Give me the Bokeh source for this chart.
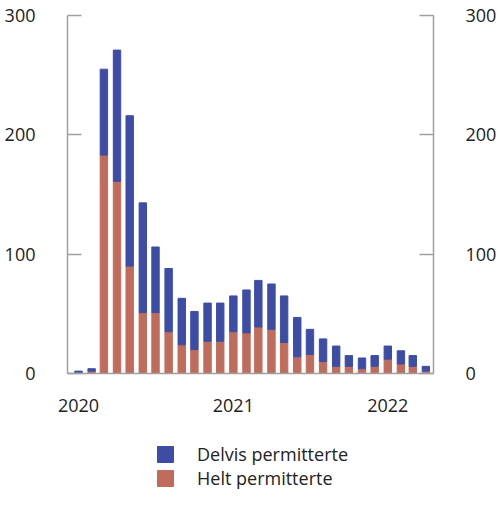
from bokeh.plotting import figure
from bokeh.embed import file_html
from bokeh.resources import INLINE
from bokeh.layouts import column
from bokeh.models import ColumnDataSource, Range1d, LinearAxis, FixedTicker, Legend, DatetimeTickFormatter
import pandas as pd

# Maaneder (jan 2020 - apr 2022)
maaneder = ["2020-01", "2020-02", "2020-03", "2020-04", "2020-05", "2020-06", "2020-07",
            "2020-08", "2020-09", "2020-10", "2020-11", "2020-12",
            "2021-01", "2021-02", "2021-03", "2021-04", "2021-05", "2021-06", "2021-07",
            "2021-08", "2021-09", "2021-10", "2021-11", "2021-12",
            "2022-01", "2022-02", "2022-03", "2022-04"]

# Helt permitterte (1000 personer)
helt = [0.8, 2, 183, 161, 90, 51, 51, 35, 24, 20, 27, 27,
        35, 34, 39, 37, 26, 14, 16, 10, 6, 6, 4, 6,
        12, 8, 6, 2]

# Sum helt + delvis
totalt = [2, 4, 255, 271, 216, 143, 106, 88, 63, 52, 59, 59,
          65, 70, 78, 75, 65, 47, 37, 29, 23, 15, 13, 15,
          23, 19, 15, 6]

delvis = [t - h for t, h in zip(totalt, helt)]

serier = ["Delvis permitterte", "Helt permitterte"]

farge_delvis = "#3d4da6"
farge_helt = "#c06c5c"
akse_farge = "#a0a0a0"
tekst_farge = "#222222"
font = "Open Sans"

source = ColumnDataSource(dict(x=pd.to_datetime(maaneder), helt=helt, delvis=delvis))

p = figure(x_axis_type="datetime",
           x_range=Range1d(pd.Timestamp("2019-12-06"), pd.Timestamp("2022-04-19")),
           y_range=Range1d(0, 300),
           width=500, height=430,
           min_border_left=67, min_border_right=67, min_border_top=15, min_border_bottom=57,
           toolbar_location=None, output_backend="svg")

bredde = 17.5 * 24 * 60 * 60 * 1000
p.vbar_stack(["helt", "delvis"], x="x", width=bredde, color=[farge_helt, farge_delvis],
             source=source)

p.xgrid.visible = False
p.ygrid.visible = False
p.outline_line_color = None

# y-akser paa begge sider
p.add_layout(LinearAxis(), "right")
for ax in p.yaxis:
    ax.ticker = FixedTicker(ticks=[0, 100, 200, 300])
    ax.major_tick_in = 14
    ax.major_tick_out = 0
    ax.minor_tick_line_color = None
    ax.axis_line_color = akse_farge
    ax.axis_line_width = 1.5
    ax.major_tick_line_color = akse_farge
    ax.major_tick_line_width = 1.5
    ax.major_label_text_font = font
    ax.major_label_text_font_size = "18px"
    ax.major_label_text_color = tekst_farge
    ax.major_label_standoff = 32

ax = p.xaxis[0]
ax.ticker = FixedTicker(ticks=[pd.Timestamp(f"{aar}-01-01").value / 1e6 for aar in (2020, 2021, 2022)])
ax.formatter = DatetimeTickFormatter(years="%Y", months="%Y", days="%Y")
ax.major_tick_line_color = None
ax.minor_tick_line_color = None
ax.axis_line_color = akse_farge
ax.axis_line_width = 1.5
ax.major_label_text_font = font
ax.major_label_text_font_size = "18px"
ax.major_label_text_color = tekst_farge
ax.major_label_standoff = 19

# Egen liten figur for tegnforklaringen (uten akser)
lg = figure(width=500, height=70, x_range=Range1d(0, 1), y_range=Range1d(0, 1),
            x_axis_location=None, y_axis_location=None,
            min_border=0, toolbar_location=None, output_backend="svg")
lg.grid.visible = False
lg.outline_line_color = None
# tomme soyler (NaN), bare for aa faa symbolene i forklaringen
skjult = ColumnDataSource(dict(x=[float("nan")], top=[float("nan")]))
r_delvis = lg.vbar(x="x", top="top", width=0.1, color=farge_delvis, source=skjult)
r_helt = lg.vbar(x="x", top="top", width=0.1, color=farge_helt, source=skjult)

legend = Legend(items=[(serier[0], [r_delvis]), (serier[1], [r_helt])],
                location=(88, 10), orientation="vertical",
                glyph_width=20, glyph_height=20, label_standoff=22, spacing=0,
                padding=0, margin=0, border_line_color=None, background_fill_alpha=0,
                label_text_font=font, label_text_font_size="18px", label_text_color=tekst_farge)
lg.add_layout(legend)

open("out.html", "w").write(file_html(column(p, lg), INLINE))
